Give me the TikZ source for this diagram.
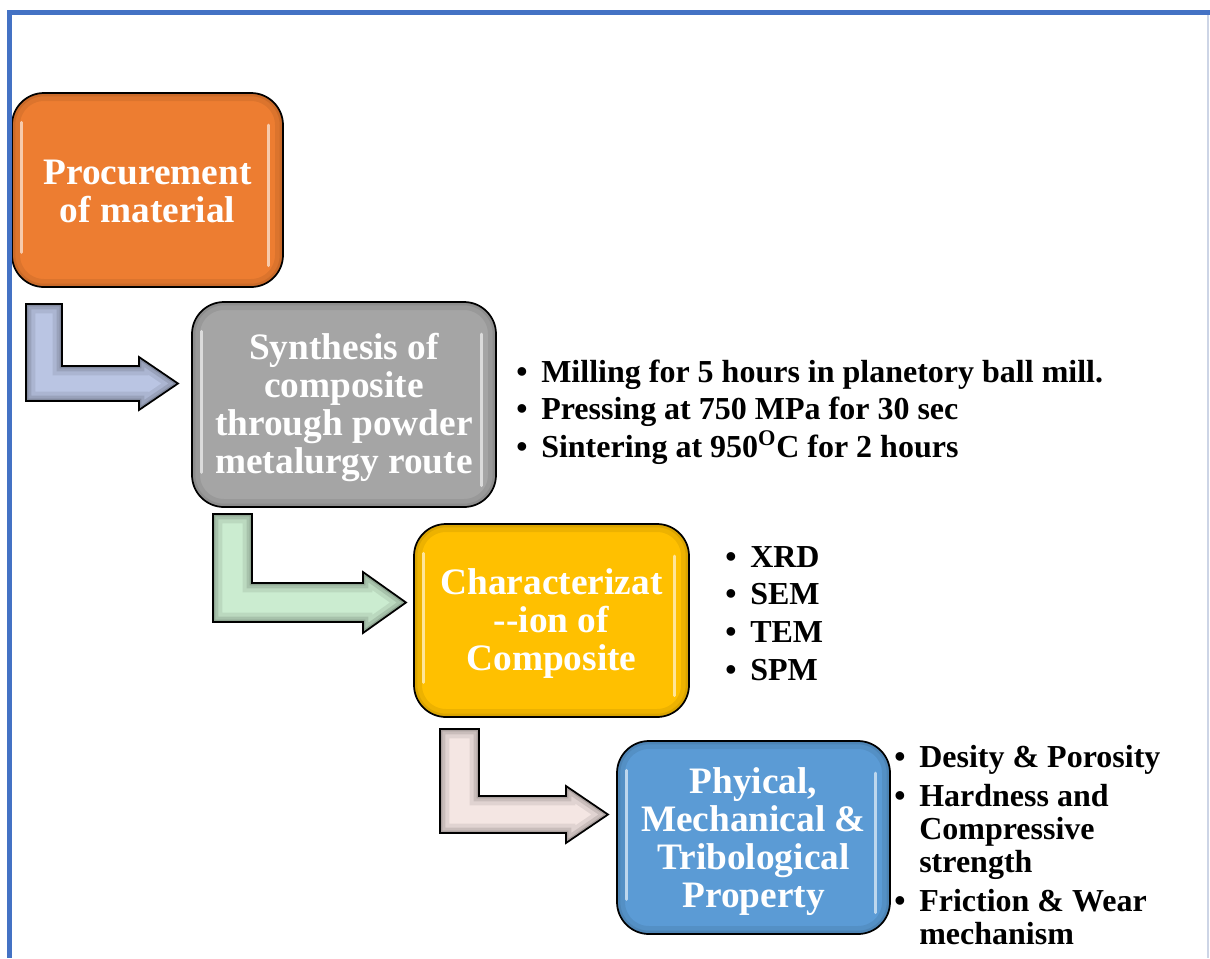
\documentclass[tikz,border=0pt]{standalone}
\usepackage{fontspec}
\setmainfont{Liberation Serif}
\definecolor{frameblue}{HTML}{4472C4}
\definecolor{framegray}{HTML}{CDD5E6}
\definecolor{cOrange}{HTML}{ED7D31}
\definecolor{cGray}{HTML}{A5A5A5}
\definecolor{cYellow}{HTML}{FFC000}
\definecolor{cBlue}{HTML}{5B9BD5}
\definecolor{aLav}{HTML}{BAC5E3}
\definecolor{aGreen}{HTML}{CBECD0}
\definecolor{aPink}{HTML}{F4E6E3}
\newcommand{\bul}{\makebox[18.75pt][l]{\textbullet}}
\newcommand{\ind}{\hspace*{18.75pt}}
\newcommand{\stagetext}[1]{\begin{tabular}{@{}c@{}}#1\end{tabular}}
% bent arrow: #1 colour, xL, xR, yT, yB1, yB2, xH, yH1, xT  (tip y = middle of bar)
\newcommand{\bentarrow}[9]{%
  \path[save path=\arrpath] (#2,#4) -- (#3,#4) -- (#3,#5) -- (#7,#5) -- (#7,#8)
     -- (#9,{(#5+#6)/2}) -- (#7,{#5+#6-#8}) -- (#7,#6) -- (#2,#6) -- cycle;
  \fill[#1, use path=\arrpath];
  \begin{scope}
    \clip[use path=\arrpath];
    \draw[black, opacity=0.08, line width=14pt, line join=miter, use path=\arrpath];
    \draw[black, opacity=0.10, line width=8pt, line join=miter, use path=\arrpath];
    \draw[black, opacity=0.14, line width=3.5pt, line join=miter, use path=\arrpath];
  \end{scope}
  \draw[black, line width=1.3pt, line join=miter, use path=\arrpath];
}
\tikzset{
  stage/.style={draw=black, line width=1.3pt, rounded corners=24pt, inner sep=0pt,
    path picture={
      \draw[black, opacity=0.07, line width=12pt]
        (path picture bounding box.south west) rectangle (path picture bounding box.north east);
      \draw[black, opacity=0.08, line width=5pt]
        (path picture bounding box.south west) rectangle (path picture bounding box.north east);
      \draw[white, opacity=0.6, line width=2.2pt, line cap=round]
        ([xshift=7pt,yshift=-22pt]path picture bounding box.north west) --
        ([xshift=7pt,yshift=26pt]path picture bounding box.south west);
      \draw[white, opacity=0.6, line width=2.2pt, line cap=round]
        ([xshift=-11pt,yshift=-24pt]path picture bounding box.north east) --
        ([xshift=-11pt,yshift=16pt]path picture bounding box.south east);
    }},
  stagelabel/.style={inner sep=0pt, text=white, font=\fontsize{28}{28.5}\selectfont\bfseries},
  listtext/.style={inner sep=0pt, text=black, font=\fontsize{24}{28.3}\selectfont\bfseries}
}
\begin{document}
\begin{tikzpicture}[x=0.75pt,y=-0.75pt]
\useasboundingbox (0,0) rectangle (1210,958);
\fill[white] (0,0) rectangle (1210,958);

% arrows
\bentarrow{aLav}{26}{62}{304}{366}{401}{139}{357}{178}
\bentarrow{aGreen}{213}{252}{514}{583}{622}{363}{572}{406}
\bentarrow{aPink}{440}{479}{729}{796}{833}{566}{786}{608}

% stage boxes
\node[stage, fill=cOrange, minimum width={271*0.75pt}, minimum height={194*0.75pt}]
  (box1) at (147.5,190) {};
\node[stage, fill=cGray, minimum width={304*0.75pt}, minimum height={205*0.75pt}]
  (box2) at (344,404.5) {};
\node[stage, fill=cYellow, minimum width={275*0.75pt}, minimum height={193*0.75pt}]
  (box3) at (551.5,620.5) {};
\node[stage, fill=cBlue, minimum width={273*0.75pt}, minimum height={193*0.75pt}]
  (box4) at (753.5,837.5) {};

\node[stagelabel] (label1) at ([yshift=-4.5pt]box1.center) {\stagetext{Procurement\\of material}};
\node[stagelabel] (label2) at ([yshift=-3pt]box2.center) {\stagetext{Synthesis of\\composite\\through powder\\metalurgy route}};
\node[stagelabel] (label3) at ([yshift=-3pt]box3.center) {\stagetext{Characterizat\\-{}-ion of\\Composite}};
\node[stagelabel] (label4) at ([yshift=-3.75pt]box4.center) {\stagetext{Phyical,\\Mechanical \&\\Tribological\\Property}};

% bullet lists
\node[listtext, anchor=base west] (list1) at (516,382) {\begin{tabular}[t]{@{}l@{}}
\bul Milling for 5 hours in planetory ball mill.\\
\bul Pressing at 750 MPa for 30 sec\\
\bul Sintering at 950\textsuperscript{O}C for 2 hours
\end{tabular}};
\node[listtext, anchor=base west] (list2) at (725,567) {\begin{tabular}[t]{@{}l@{}}
\bul XRD\\
\bul SEM\\
\bul TEM\\
\bul SPM
\end{tabular}};
\node[listtext, anchor=base west, font=\fontsize{24}{24.75}\selectfont\bfseries] (list4) at (894,767) {\begin{tabular}[t]{@{}l@{}}
\bul Desity \& Porosity\\[4.5pt]
\bul Hardness and\\
\ind Compressive\\
\ind strength\\[4.5pt]
\bul Friction \& Wear\\
\ind mechanism
\end{tabular}};

% frame
\fill[frameblue] (7,10) rectangle (1210,15);
\fill[frameblue] (7,10) rectangle (12,958);
\draw[framegray, line width=1.2pt] (1208,15) -- (1208,958);
\end{tikzpicture}
\end{document}
